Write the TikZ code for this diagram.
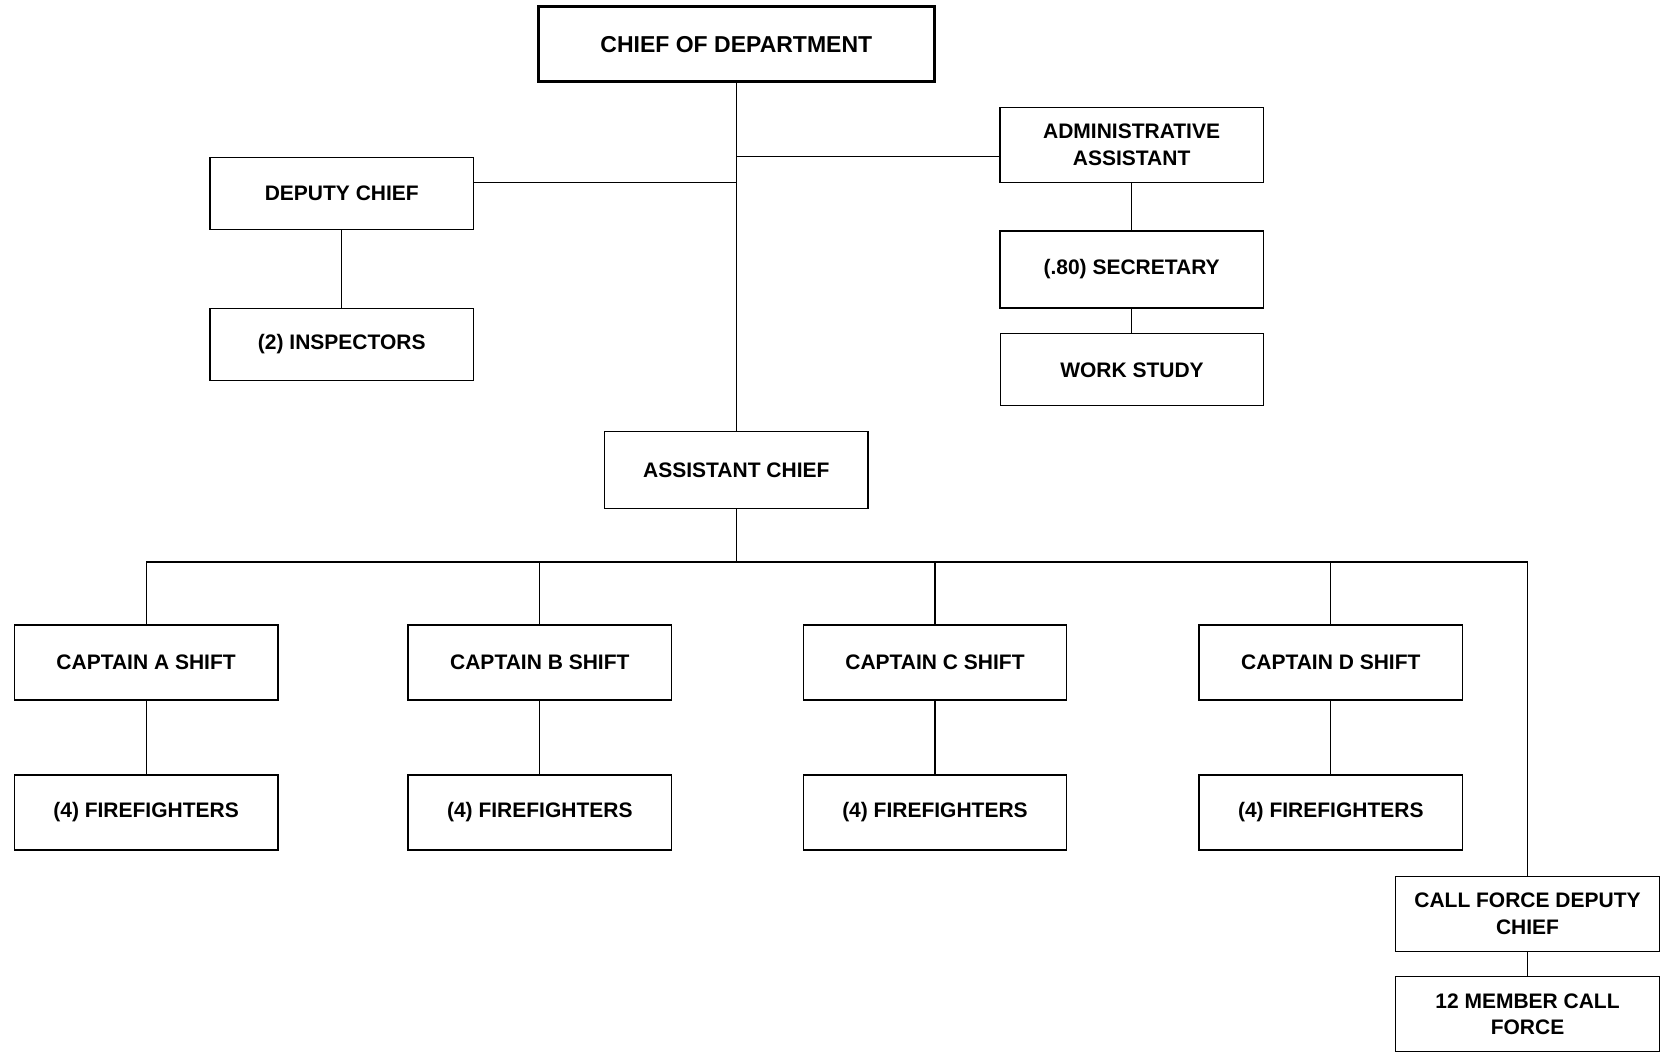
\documentclass[tikz,border=0pt]{standalone}
\usepackage{fontspec}
\setmainfont{Liberation Sans}
\begin{document}
\begin{tikzpicture}[x=0.5pt, y=-0.5pt, font=\fontsize{10.5}{13.3}\selectfont\bfseries, line join=miter,
		box/.style={draw, line width=0.7pt, minimum width=131.75pt, minimum height=37.5pt, inner sep=0pt, align=center},
		link/.style={line width=0.6pt}]
		\useasboundingbox (0,0) rectangle (1666,1053);
		% top
		\node[box, line width=1.3pt, minimum width=198pt, font=\fontsize{11.5}{14}\selectfont\bfseries] (chief) at (736.3,44.1) {CHIEF OF DEPARTMENT};
		\node[box, minimum height=36pt] (deputy) at (341.8,193.4) {DEPUTY CHIEF};
		\node[box, minimum height=36pt] (insp) at (341.8,344.3) {(2) INSPECTORS};
		\node[box] (admin) at (1131.6,145) {ADMINISTRATIVE\\ASSISTANT};
		\node[box, minimum height=38.5pt] (secr) at (1131.6,269.4) {(.80) SECRETARY};
		\node[box, minimum height=36pt] (work) at (1132,369.8) {WORK STUDY};
		\node[box, minimum height=38.5pt] (asst) at (736.3,470.2) {ASSISTANT CHIEF};
		\coordinate (jr) at (736.3,156.7);
		\coordinate (jl) at (736.3,182.3);
		\coordinate (bus) at (736.3,562.1);
		\draw[link] (chief.south) -- (asst.north);
		\draw[link] (deputy.east |- jl) -- (jl);
		\draw[link] (jr) -- (jr -| admin.west);
		\draw[link] (deputy.south) -- (deputy.south |- insp.north);
		\draw[link] (admin) -- (secr);
		\draw[link] (secr.south) -- (secr.south |- work.north);
		% shifts
		\foreach \n/\x in {A/146.1, B/539.8, C/935, D/1330.8}{
			\node[box] (cap\n) at (\x,662.5) {CAPTAIN \n\ SHIFT};
			\node[box] (ff\n) at (\x,812.3) {(4) FIREFIGHTERS};
			\draw[link] (cap\n) -- (ff\n);
		}
		\node[box] (callchief) at (1527.5,913.8) {CALL FORCE DEPUTY\\CHIEF};
		\node[box] (callforce) at (1527.5,1014.2) {12 MEMBER CALL\\FORCE};
		\draw[link] (callchief) -- (callforce);
		\draw[link] (asst.south) -- (bus);
		\draw[link] (capA.north) |- (bus) -| (callchief.north);
		\foreach \n in {B,C,D}\draw[link] (cap\n.north) -- (cap\n.north |- bus);
	\end{tikzpicture}
\end{document}
